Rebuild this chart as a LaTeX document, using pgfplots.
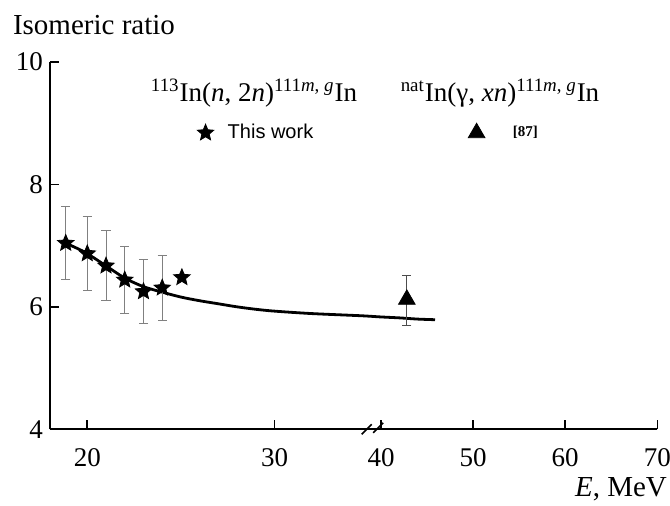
\documentclass[border=0pt]{standalone}
\usepackage{pgfplots}
\pgfplotsset{compat=1.18}
\usepackage{fontspec}
\setmainfont{Liberation Serif}
\newfontfamily\sansf{Liberation Sans}

\pgfdeclareplotmark{fstar}{%
  \pgfpathmoveto{\pgfpointpolar{90}{\pgfplotmarksize}}%
  \pgfpathlineto{\pgfpointpolar{126}{0.45\pgfplotmarksize}}%
  \pgfpathlineto{\pgfpointpolar{162}{\pgfplotmarksize}}%
  \pgfpathlineto{\pgfpointpolar{198}{0.45\pgfplotmarksize}}%
  \pgfpathlineto{\pgfpointpolar{234}{\pgfplotmarksize}}%
  \pgfpathlineto{\pgfpointpolar{270}{0.45\pgfplotmarksize}}%
  \pgfpathlineto{\pgfpointpolar{306}{\pgfplotmarksize}}%
  \pgfpathlineto{\pgfpointpolar{342}{0.45\pgfplotmarksize}}%
  \pgfpathlineto{\pgfpointpolar{18}{\pgfplotmarksize}}%
  \pgfpathlineto{\pgfpointpolar{54}{0.45\pgfplotmarksize}}%
  \pgfpathclose
  \pgfusepathqfillstroke}

\begin{document}
\begin{tikzpicture}
\useasboundingbox (-25pt,-38.35pt) rectangle (310pt,214.65pt);
\begin{axis}[
  at={(0,0)}, anchor=south west,
  scale only axis, width=303.65pt, height=183.65pt,
  % broken x axis: 18..37 MeV linear, then 40..70 MeV compressed
  x coord trafo/.code={\pgfmathparse{(#1<37)*(#1)+(#1>=37)*(35.68+0.4915*((#1)-40))}},
  xmin=18.01, xmax=70, ymin=4, ymax=10,
  axis lines=left,
  axis line style={-, line width=0.9pt},
  xtick={20,30,40,50,60,70},
  xticklabels={20,30,40,50,60,70},
  ytick={4,6,8,10},
  tick align=inside,
  major tick length=4.5pt,
  tick style={line width=0.8pt, black},
  ticklabel style={font=\fontsize{13.5}{16}\selectfont},
  xticklabel style={yshift=-6pt},
  /pgf/number format/assume math mode=true,
  clip=false,
  legend style={at={(0.242,0.807)}, anchor=west, draw=none, fill=none, inner sep=0pt,
    legend columns=2, /tikz/every even column/.append style={column sep=75.5pt}},
]
% fitted curve
\addplot[black, line width=1.4pt, smooth, no marks, forget plot] coordinates {
 (18.85,7.04) (19.5,6.95) (20,6.87) (21,6.67) (22,6.47) (23,6.33) (24,6.24)
 (25,6.16) (26,6.10) (27,6.05) (28,6.00) (29,5.96) (30,5.93) (32,5.89)
 (34.6,5.855) (40,5.835) (42,5.82) (44,5.80) (45.86,5.79)
};
% This work
\addplot[only marks, mark=fstar, mark size=4.3pt, black,
  error bars/.cd, y dir=both, y explicit,
  error bar style={gray, line width=0.5pt},
  error mark=-,
  error mark options={gray, rotate=90, mark size=2.3pt, line width=0.5pt}]
 coordinates {
 (18.85,7.04) +- (0,0.60)
 (20.0,6.87) +- (0,0.60)
 (21.0,6.67) +- (0,0.57)
 (22.0,6.44) +- (0,0.55)
 (23.0,6.25) +- (0,0.53)
 (24.0,6.31) +- (0,0.53)
 (25.05,6.48) +- (0,0)
};
\addlegendentry{\hspace{5pt}{\sansf\fontsize{10}{12}\selectfont This work}}
% [87]
\addplot[only marks, mark=triangle*, mark size=4.8pt, black,
  error bars/.cd, y dir=both, y explicit,
  error bar style={gray!60!black, line width=0.5pt},
  error mark=-,
  error mark options={gray!60!black, rotate=90, mark size=2.3pt, line width=0.5pt}]
 coordinates {
 (42.8,6.12) += (0,0.40) -= (0,0.42)
};
\addlegendentry{\hspace{12pt}{\bfseries\fontsize{7.5}{9}\selectfont [87]}}

\node[anchor=base, font=\fontsize{13.5}{16}\selectfont] at (axis description cs:0.336,0.892)
 {\textsuperscript{113}In(\textit{n}, 2\textit{n})\textsuperscript{111\textit{m}, \textit{g}}In};
\node[anchor=base, font=\fontsize{13.5}{16}\selectfont] at (axis description cs:0.741,0.892)
 {\textsuperscript{nat}In(γ, \textit{xn})\textsuperscript{111\textit{m}, \textit{g}}In};
\node[anchor=base west, font=\fontsize{14.5}{17}\selectfont, inner sep=0pt] at (axis description cs:-0.0615,1.076) {Isomeric ratio};
\node[anchor=base east, font=\fontsize{14.5}{17}\selectfont, inner sep=0pt] at (axis description cs:1.0165,-0.184) {\textit{E}, MeV};
% axis break marks
\draw[line width=0.8pt] ([shift={(-2.5pt,-2.5pt)}]axis description cs:0.5215,0) -- ++(5pt,5pt);
\draw[line width=0.8pt] ([shift={(-2.5pt,-2.5pt)}]axis description cs:0.5405,0.004) -- ++(5pt,5pt);
\end{axis}
\end{tikzpicture}
\end{document}
